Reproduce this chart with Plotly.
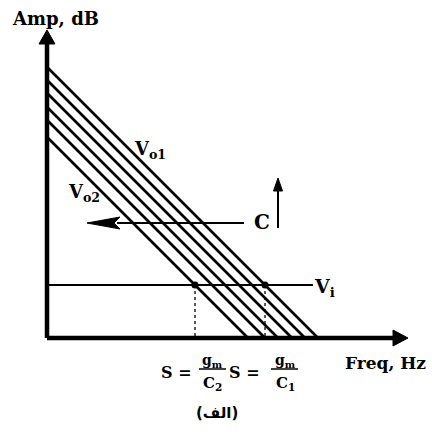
import plotly.graph_objects as go

# Family of 45-degree roll-off responses (amplitude at zero frequency, arbitrary dB units)
intercepts = [271, 258, 245, 231, 218, 201]
slope = -1.0
vi_level = 53          # input level V_i
x_axis_end = 361       # arrow tip of the frequency axis
y_axis_end = 308       # arrow tip of the amplitude axis

BLACK = "#000000"
SERIF = "DejaVu Serif"

fig = go.Figure()

# Response lines
for b in intercepts:
    f_end = -b / slope
    fig.add_trace(go.Scatter(x=[0, f_end], y=[b, 0], mode="lines",
                             line=dict(color=BLACK, width=2.6),
                             hoverinfo="skip", showlegend=False))

# Input level line
fig.add_trace(go.Scatter(x=[0, 266], y=[vi_level, vi_level], mode="lines",
                         line=dict(color=BLACK, width=2.2),
                         hoverinfo="skip", showlegend=False))

# Crossing points of V_i with the outermost responses (S = gm/C2 and S = gm/C1)
cross_f = [(vi_level - min(intercepts)) / slope, (vi_level - max(intercepts)) / slope]
for f in cross_f:
    fig.add_trace(go.Scatter(x=[f, f], y=[vi_level, 0], mode="lines",
                             line=dict(color=BLACK, width=1.3, dash="dot"),
                             hoverinfo="skip", showlegend=False))
fig.add_trace(go.Scatter(x=cross_f, y=[vi_level, vi_level], mode="markers",
                         marker=dict(color=BLACK, size=7),
                         hoverinfo="skip", showlegend=False))

# Axes
fig.add_shape(type="line", x0=0, y0=0, x1=x_axis_end - 12, y1=0,
              line=dict(color=BLACK, width=4.5))
fig.add_shape(type="line", x0=0, y0=0, x1=0, y1=y_axis_end - 12,
              line=dict(color=BLACK, width=4.5))
fig.add_shape(type="path",
              path=f"M {x_axis_end},0 L {x_axis_end-15},8 L {x_axis_end-15},-8 Z",
              fillcolor=BLACK, line=dict(color=BLACK, width=1))
fig.add_shape(type="path",
              path=f"M 0,{y_axis_end} L -8,{y_axis_end-14} L 8,{y_axis_end-14} Z",
              fillcolor=BLACK, line=dict(color=BLACK, width=1))

# Shift arrow (increasing C moves curves left)
fig.add_shape(type="line", x0=70, y0=115, x1=197, y1=115,
              line=dict(color=BLACK, width=2))
fig.add_shape(type="path", path="M 40,115 L 73,121 L 67,115 L 73,109 Z",
              fillcolor=BLACK, line=dict(color=BLACK, width=1))
fig.add_shape(type="line", x0=231, y0=110, x1=231, y1=150,
              line=dict(color=BLACK, width=2))
fig.add_shape(type="path", path="M 231,160 L 226.5,147 L 235.5,147 Z",
              fillcolor=BLACK, line=dict(color=BLACK, width=1))

# Fraction bars
fig.add_shape(type="line", x0=152, y0=-31, x1=179, y1=-31, line=dict(color=BLACK, width=1.5))
fig.add_shape(type="line", x0=224, y0=-31, x1=251, y1=-31, line=dict(color=BLACK, width=1.5))


def label(text, x, y, size, family=SERIF):
    fig.add_annotation(x=x, y=y, text=text, showarrow=False,
                       font=dict(family=family, size=size, color=BLACK),
                       xanchor="center", yanchor="middle")


label("<b>Amp, dB</b>", 8, 320, 18)
label("<b>Freq, Hz</b>", 338, -25, 17)
label("<b>V<sub>o1</sub></b>", 103, 188, 18)
label("<b>V<sub>o2</sub></b>", 37, 145, 18)
label("<b>C</b>", 215, 116, 20)
label("<b>V<sub>i</sub></b>", 277, 51, 19)
label("<b>S =</b>", 129, -34, 16)
label("<b>S =</b>", 197, -34, 16)
label("<b>g<sub>m</sub></b>", 165, -23, 14)
label("<b>g<sub>m</sub></b>", 238, -23, 14)
label("<b>C<sub>2</sub></b>", 165, -45, 15)
label("<b>C<sub>1</sub></b>", 238, -45, 15)
label("<b>(الف)</b>", 170, -75, 15, family="DejaVu Sans")

fig.update_layout(
    width=432, height=443, autosize=False,
    margin=dict(l=0, r=0, t=0, b=0),
    paper_bgcolor="white", plot_bgcolor="white",
    xaxis=dict(range=[-47, 385], visible=False, fixedrange=True),
    yaxis=dict(range=[-105, 338], visible=False, fixedrange=True),
    showlegend=False,
)

fig.write_html("out.html")
